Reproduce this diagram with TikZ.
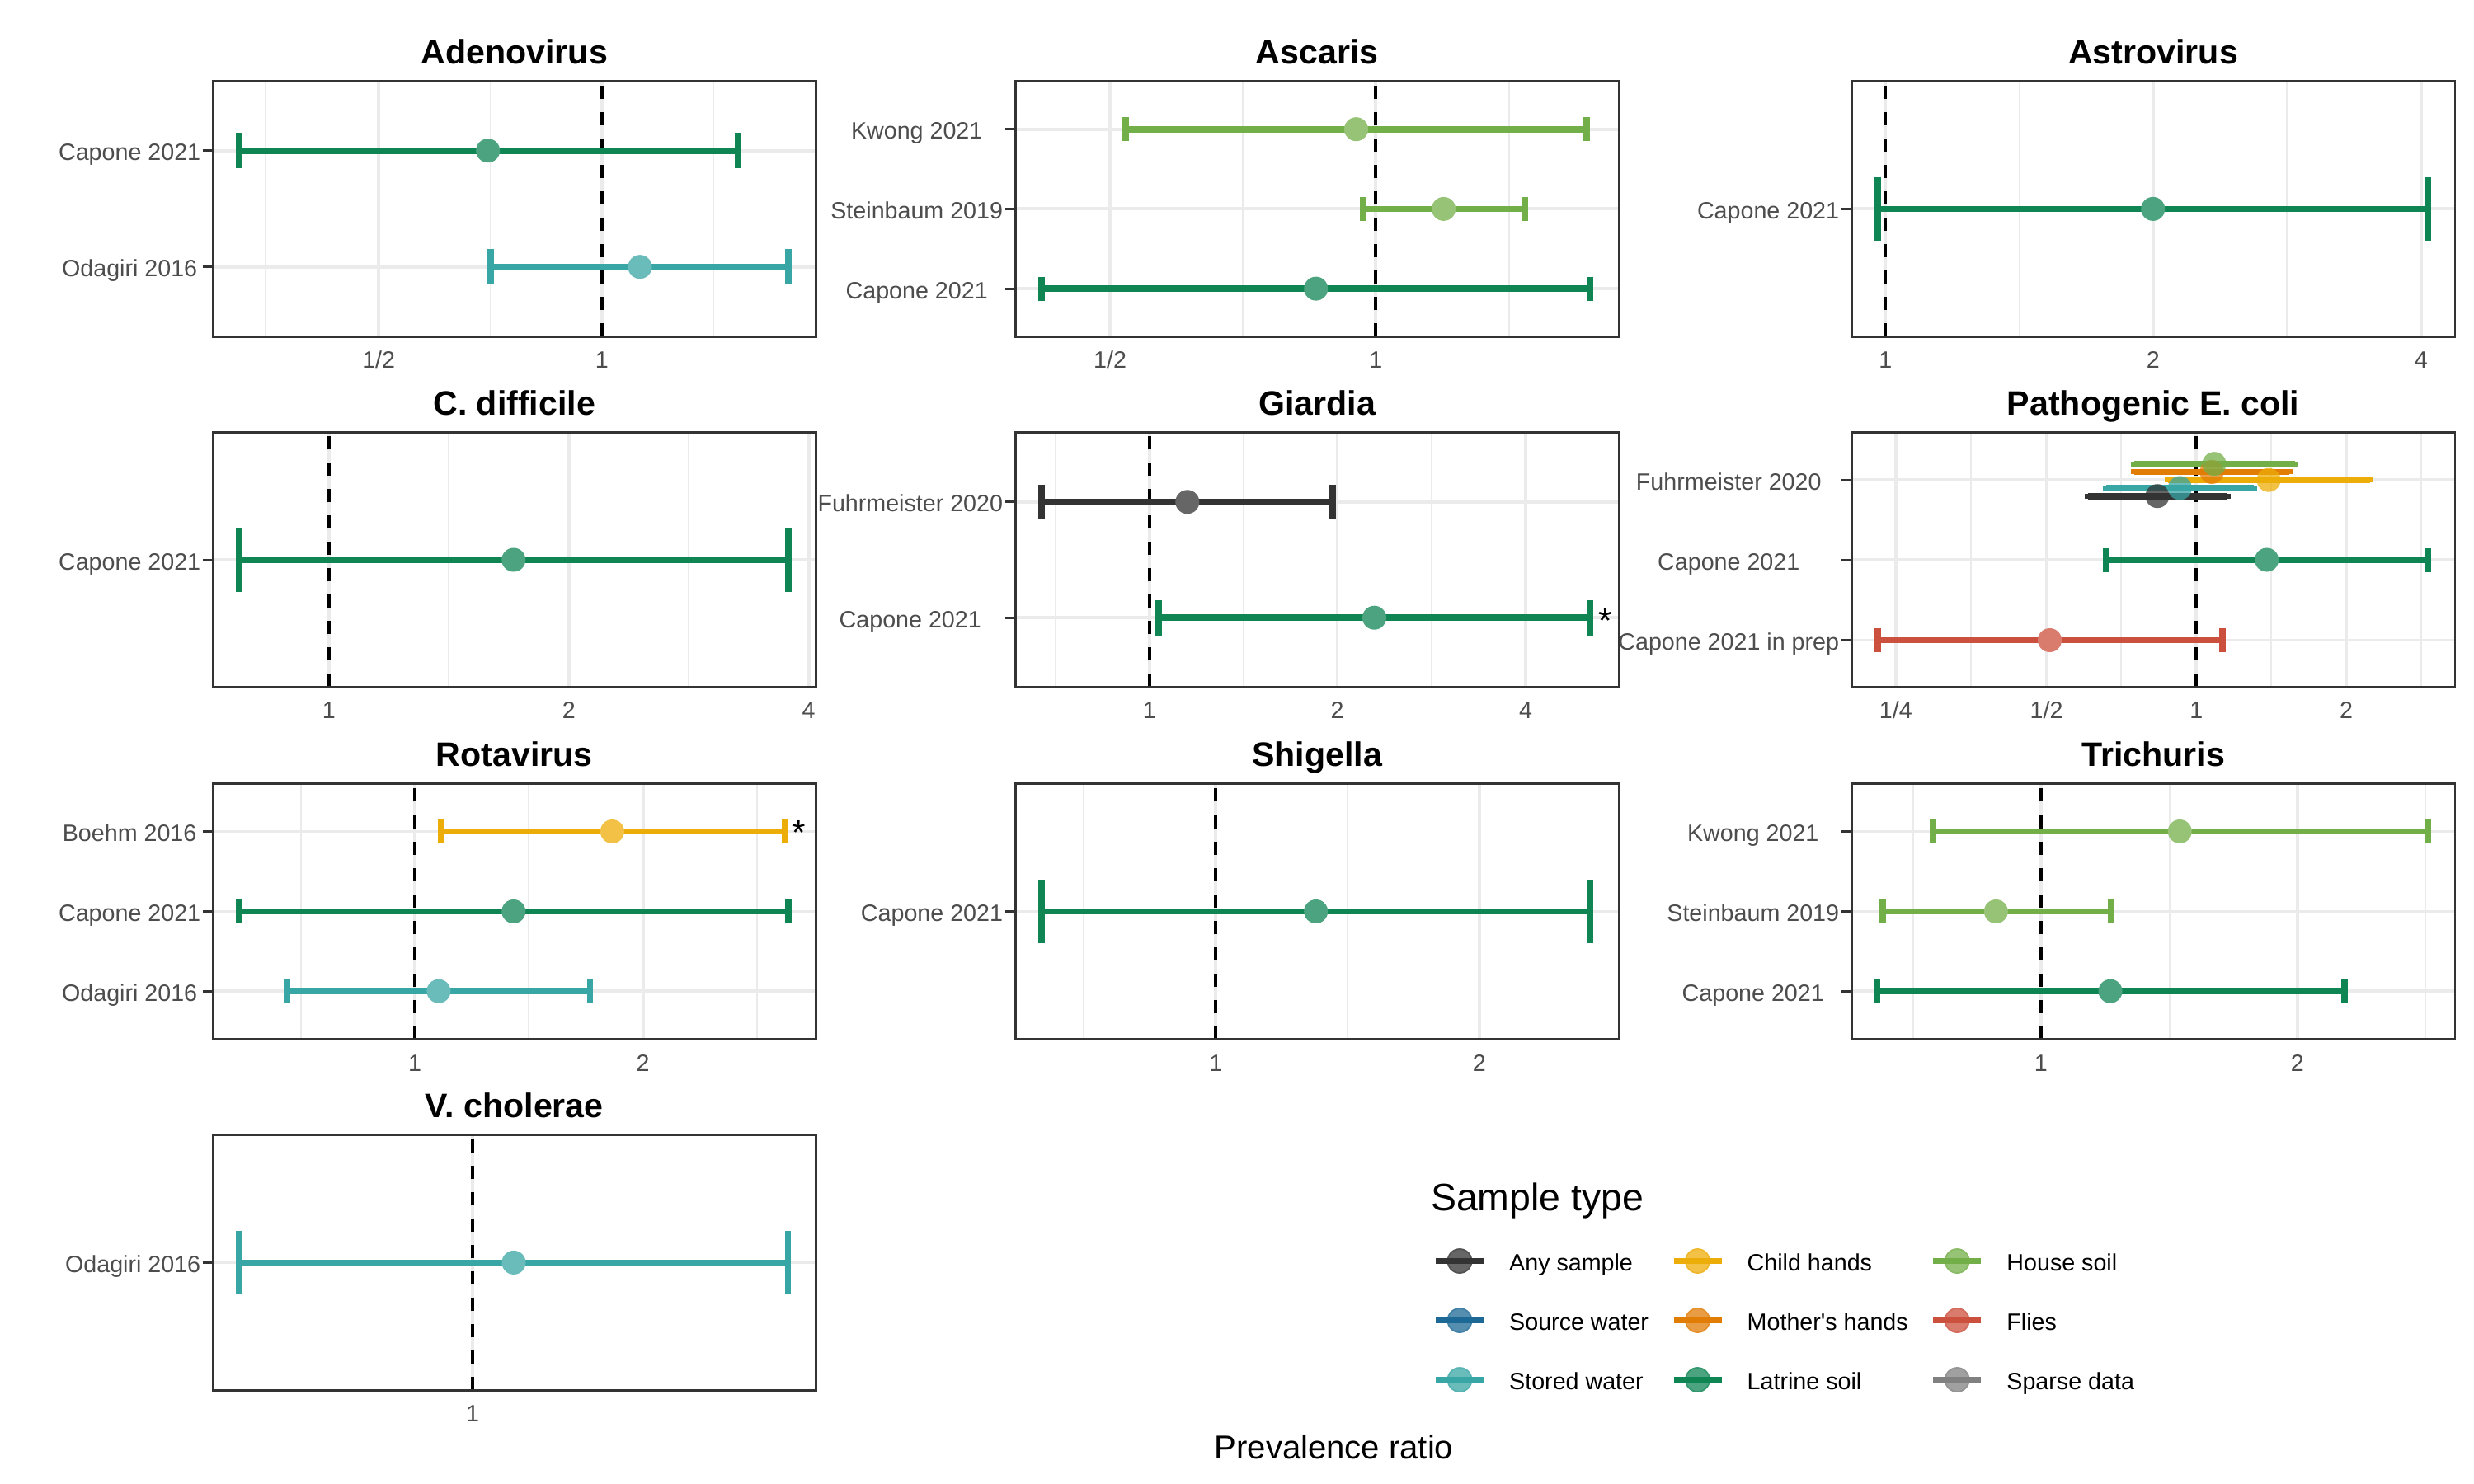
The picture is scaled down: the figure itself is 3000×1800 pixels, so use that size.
\documentclass[tikz,border=0pt]{standalone}
\usepackage{fontspec}
\setmainfont{Liberation Sans}
\usepackage{tikz}
\definecolor{anys}{HTML}{333333}
\definecolor{source}{HTML}{1D6996}
\definecolor{stored}{HTML}{38A6A5}
\definecolor{latrine}{HTML}{0F8554}
\definecolor{house}{HTML}{73AF48}
\definecolor{child}{HTML}{EDAD08}
\definecolor{mother}{HTML}{E17C05}
\definecolor{flies}{HTML}{CC503E}
\definecolor{sparse}{HTML}{808080}
\definecolor{gridgrey}{HTML}{EBEBEB}
\definecolor{framegrey}{HTML}{333333}
\definecolor{axisgrey}{HTML}{4D4D4D}
% colour, y, low, high, half height of the end bars
\newcommand{\ebarline}[5]{%
  \draw[bar, #1] (#3,#2) -- (#4,#2);
  \draw[bar, #1] (#3,#2-#5) -- (#3,#2+#5);
  \draw[bar, #1] (#4,#2-#5) -- (#4,#2+#5);}
\newcommand{\ept}[3]{\fill[ptfill=#1] (#2,#3) circle[radius=0.145cm];}
\newcommand{\ebar}[6]{\ebarline{#1}{#2}{#3}{#4}{#6}\ept{#1}{#5}{#2}}

\begin{document}
\begin{tikzpicture}[x=0.01cm, y=-0.01cm,
    frame/.style={draw=framegrey, line width=0.8pt},
    majorgrid/.style={draw=gridgrey, line width=1.1pt},
    minorgrid/.style={draw=gridgrey, line width=0.55pt},
    refline/.style={draw=black, line width=1.15pt, dash pattern=on 4.55pt off 4.55pt},
    ytick/.style={draw=framegrey, line width=0.8pt},
    bar/.style={line width=2.2pt},
    ptfill/.style={fill=#1!75!white},
    ylab/.style={font=\fontsize{8.15}{10}\selectfont, text=axisgrey, inner sep=0pt},
    xlab/.style={font=\fontsize{8.15}{10}\selectfont, text=axisgrey, inner sep=0pt, anchor=base},
    ptitle/.style={font=\fontsize{11.7}{14}\selectfont\bfseries, inner sep=0pt, anchor=base},
    star/.style={font=\fontsize{12}{14}\selectfont, inner sep=0pt, anchor=base},
    legtext/.style={font=\fontsize{8.15}{10}\selectfont, inner sep=0pt, anchor=base west}]
\useasboundingbox (0,0) rectangle (3000,1800);

% Adenovirus
\foreach \x in {322.4,594.5,865.2} \draw[minorgrid] (\x,98.7) -- (\x,408.1);
\foreach \x in {459.2,729.9} \draw[majorgrid] (\x,98.7) -- (\x,408.1);
\foreach \y in {182.7,323.7} {\draw[majorgrid] (258.3,\y) -- (989.2,\y); \draw[ytick] (246.3,\y) -- (258.3,\y);}
\draw[refline] (729.9,408.1) -- (729.9,98.7);
\ebar{latrine}{182.7}{290}{894.5}{591.7}{21.3}
\ebar{stored}{323.7}{595.2}{956}{776}{21.3}
\draw[frame] (258.3,98.7) rectangle (989.2,408.1);
\node[ptitle] (ade) at (623.75,77.5) {Adenovirus};
\node[ylab, anchor=base east] (ade-c) at (243.9,194.7) {Capone 2021};
\node[ylab, anchor=base] (ade-o) at (ade-c.base |- 0,335.7) {Odagiri 2016};
\node[xlab] (ade-x1) at (459.2,446.6) {1/2};
\node[xlab] (ade-x2) at (729.9,446.6) {1};

% Ascaris
\foreach \x in {1507.2,1829.6} \draw[minorgrid] (\x,98.7) -- (\x,408.1);
\foreach \x in {1346,1668.4} \draw[majorgrid] (\x,98.7) -- (\x,408.1);
\foreach \y in {156.7,253.4,350.1} {\draw[majorgrid] (1231.2,\y) -- (1963,\y); \draw[ytick] (1219.2,\y) -- (1231.2,\y);}
\draw[refline] (1668.4,408.1) -- (1668.4,98.7);
\ebar{house}{156.7}{1365.2}{1923.8}{1644.5}{14.5}
\ebar{house}{253.4}{1653.1}{1849.2}{1750.6}{14.5}
\ebar{latrine}{350.1}{1262.8}{1928.6}{1595.7}{14.5}
\draw[frame] (1231.2,98.7) rectangle (1963,408.1);
\node[ptitle] (asc) at (1597.1,77.5) {Ascaris};
\node[ylab, anchor=base east] (asc-s) at (1216.8,265.4) {Steinbaum 2019};
\node[ylab, anchor=base] (asc-k) at (asc-s.base |- 0,168.7) {Kwong 2021};
\node[ylab, anchor=base] (asc-c) at (asc-s.base |- 0,362.1) {Capone 2021};
\node[xlab] (asc-x1) at (1346,446.6) {1/2};
\node[xlab] (asc-x2) at (1668.4,446.6) {1};

% Astrovirus
\foreach \x in {2448.5,2773.3} \draw[minorgrid] (\x,98.7) -- (\x,408.1);
\foreach \x in {2286.4,2610.7,2935.9} \draw[majorgrid] (\x,98.7) -- (\x,408.1);
\draw[majorgrid] (2245.2,253.4) -- (2977,253.4);
\draw[ytick] (2233.2,253.4) -- (2245.2,253.4);
\draw[refline] (2286.4,408.1) -- (2286.4,98.7);
\ebar{latrine}{253.4}{2276.8}{2943.6}{2610.7}{38.8}
\draw[frame] (2245.2,98.7) rectangle (2977,408.1);
\node[ptitle] (ast) at (2611.1,77.5) {Astrovirus};
\node[ylab, anchor=base east] (ast-c) at (2230.8,265.4) {Capone 2021};
\node[xlab] (ast-x1) at (2286.4,446.6) {1};
\node[xlab] (ast-x2) at (2610.7,446.6) {2};
\node[xlab] (ast-x3) at (2935.9,446.6) {4};

% C. difficile
\foreach \x in {544.4,835.2} \draw[minorgrid] (\x,524.6) -- (\x,833.4);
\foreach \x in {398.9,689.8,980.6} \draw[majorgrid] (\x,524.6) -- (\x,833.4);
\draw[majorgrid] (258.3,679) -- (989.2,679);
\draw[ytick] (246.3,679) -- (258.3,679);
\draw[refline] (398.9,833.4) -- (398.9,524.6);
\ebar{latrine}{679}{289.9}{955.7}{622.8}{38.8}
\draw[frame] (258.3,524.6) rectangle (989.2,833.4);
\node[ptitle] (cdi) at (623.75,503.4) {C. difficile};
\node[ylab, anchor=base east] (cdi-c) at (243.9,691) {Capone 2021};
\node[xlab] (cdi-x1) at (398.9,871.9) {1};
\node[xlab] (cdi-x2) at (689.8,871.9) {2};
\node[xlab] (cdi-x3) at (980.6,871.9) {4};

% Giardia
\foreach \x in {1279.9,1507.7,1735.8} \draw[minorgrid] (\x,524.6) -- (\x,833.4);
\foreach \x in {1393.9,1621.5,1850.1} \draw[majorgrid] (\x,524.6) -- (\x,833.4);
\foreach \y in {608.8,749.2} {\draw[majorgrid] (1231.2,\y) -- (1963,\y); \draw[ytick] (1219.2,\y) -- (1231.2,\y);}
\draw[refline] (1393.9,833.4) -- (1393.9,524.6);
\ebar{anys}{608.8}{1262.8}{1615.8}{1439.8}{21.3}
\ebar{latrine}{749.2}{1405.3}{1928.6}{1666.5}{21.3}
\draw[frame] (1231.2,524.6) rectangle (1963,833.4);
\node[star] (gia-s) at (1946.8,767) {*};
\node[ptitle] (gia) at (1597.1,503.4) {Giardia};
\node[ylab, anchor=base east] (gia-f) at (1216.8,620.8) {Fuhrmeister 2020};
\node[ylab, anchor=base] (gia-c) at (gia-f.base |- 0,761.2) {Capone 2021};
\node[xlab] (gia-x1) at (1393.9,871.9) {1};
\node[xlab] (gia-x2) at (1621.5,871.9) {2};
\node[xlab] (gia-x3) at (1850.1,871.9) {4};

% Pathogenic E. coli
\foreach \x in {2390.2,2572.4,2754.2,2936.2} \draw[minorgrid] (\x,524.6) -- (\x,833.4);
\foreach \x in {2298.8,2481.5,2663.3,2845.1} \draw[majorgrid] (\x,524.6) -- (\x,833.4);
\foreach \y in {582,679,776.5} {\draw[majorgrid] (2245.2,\y) -- (2977,\y); \draw[ytick] (2233.2,\y) -- (2245.2,\y);}
\draw[refline] (2663.3,833.4) -- (2663.3,524.6);
\begin{scope}[ptfill/.style={fill=#1, fill opacity=0.75}]
  \ebarline{anys}{601.7}{2532.3}{2700.7}{3}
  \ebarline{stored}{591.95}{2554.3}{2732.7}{3}
  \ebarline{child}{582.2}{2629.3}{2873.7}{3}
  \ebarline{mother}{572.45}{2588.3}{2776}{3}
  \ebarline{house}{562.7}{2588.3}{2782.7}{3}
  \ept{anys}{2616}{601.7}
  \ept{stored}{2643.3}{591.95}
  \ept{child}{2751}{582.2}
  \ept{mother}{2682}{572.45}
  \ept{house}{2685}{562.7}
\end{scope}
\ebar{latrine}{679}{2554}{2943.7}{2748.6}{14.5}
\ebar{flies}{776.5}{2276.8}{2695.1}{2485.5}{14.5}
\draw[frame] (2245.2,524.6) rectangle (2977,833.4);
\node[ptitle] (eco) at (2611.1,503.4) {Pathogenic E. coli};
\node[ylab, anchor=base east] (eco-p) at (2230.8,788.5) {Capone 2021 in prep};
\node[ylab, anchor=base] (eco-f) at (eco-p.base |- 0,594) {Fuhrmeister 2020};
\node[ylab, anchor=base] (eco-c) at (eco-p.base |- 0,691) {Capone 2021};
\node[xlab] (eco-x1) at (2298.8,871.9) {1/4};
\node[xlab] (eco-x2) at (2481.5,871.9) {1/2};
\node[xlab] (eco-x3) at (2663.3,871.9) {1};
\node[xlab] (eco-x4) at (2845.1,871.9) {2};

% Rotavirus
\foreach \x in {365.4,641.4,918} \draw[minorgrid] (\x,950.5) -- (\x,1260.5);
\foreach \x in {503.2,779.7} \draw[majorgrid] (\x,950.5) -- (\x,1260.5);
\foreach \y in {1008.5,1105.5,1202.2} {\draw[majorgrid] (258.3,\y) -- (989.2,\y); \draw[ytick] (246.3,\y) -- (258.3,\y);}
\draw[refline] (503.2,1260.5) -- (503.2,950.5);
\ebar{child}{1008.5}{534.8}{951.9}{742.4}{14.5}
\ebar{latrine}{1105.5}{289.9}{955.7}{622.8}{14.5}
\ebar{stored}{1202.2}{348.2}{715.6}{531.9}{14.5}
\draw[frame] (258.3,950.5) rectangle (989.2,1260.5);
\node[star] (rot-s) at (969.1,1024.5) {*};
\node[ptitle] (rot) at (623.75,929.3) {Rotavirus};
\node[ylab, anchor=base east] (rot-c) at (243.9,1117.5) {Capone 2021};
\node[ylab, anchor=base] (rot-b) at (rot-c.base |- 0,1020.5) {Boehm 2016};
\node[ylab, anchor=base] (rot-o) at (rot-c.base |- 0,1214.2) {Odagiri 2016};
\node[xlab] (rot-x1) at (503.2,1299) {1};
\node[xlab] (rot-x2) at (779.7,1299) {2};

% Shigella
\foreach \x in {1314,1634,1953.5} \draw[minorgrid] (\x,950.5) -- (\x,1260.5);
\foreach \x in {1474.2,1793.7} \draw[majorgrid] (\x,950.5) -- (\x,1260.5);
\draw[majorgrid] (1231.2,1105.5) -- (1963,1105.5);
\draw[ytick] (1219.2,1105.5) -- (1231.2,1105.5);
\draw[refline] (1474.2,1260.5) -- (1474.2,950.5);
\ebar{latrine}{1105.5}{1262.8}{1928.6}{1595.7}{38.8}
\draw[frame] (1231.2,950.5) rectangle (1963,1260.5);
\node[ptitle] (shi) at (1597.1,929.3) {Shigella};
\node[ylab, anchor=base east] (shi-c) at (1216.8,1117.5) {Capone 2021};
\node[xlab] (shi-x1) at (1474.2,1299) {1};
\node[xlab] (shi-x2) at (1793.7,1299) {2};

% Trichuris
\foreach \x in {2320,2630.5,2941} \draw[minorgrid] (\x,950.5) -- (\x,1260.5);
\foreach \x in {2474.8,2785.8} \draw[majorgrid] (\x,950.5) -- (\x,1260.5);
\foreach \y in {1008.5,1105.5,1202.2} {\draw[majorgrid] (2245.2,\y) -- (2977,\y); \draw[ytick] (2233.2,\y) -- (2245.2,\y);}
\draw[refline] (2474.8,1260.5) -- (2474.8,950.5);
\ebar{house}{1008.5}{2343.8}{2943.6}{2643.2}{14.5}
\ebar{house}{1105.5}{2282.6}{2560}{2420.3}{14.5}
\ebar{latrine}{1202.2}{2275.9}{2843.2}{2559}{14.5}
\draw[frame] (2245.2,950.5) rectangle (2977,1260.5);
\node[ptitle] (tri) at (2611.1,929.3) {Trichuris};
\node[ylab, anchor=base east] (tri-s) at (2230.8,1117.5) {Steinbaum 2019};
\node[ylab, anchor=base] (tri-k) at (tri-s.base |- 0,1020.5) {Kwong 2021};
\node[ylab, anchor=base] (tri-c) at (tri-s.base |- 0,1214.2) {Capone 2021};
\node[xlab] (tri-x1) at (2474.8,1299) {1};
\node[xlab] (tri-x2) at (2785.8,1299) {2};

% V. cholerae
\draw[majorgrid] (573,1376.4) -- (573,1686.4);
\draw[majorgrid] (258.3,1531.4) -- (989.2,1531.4);
\draw[ytick] (246.3,1531.4) -- (258.3,1531.4);
\draw[refline] (573,1686.4) -- (573,1376.4);
\ebar{stored}{1531.4}{289.8}{955.6}{623}{38.8}
\draw[frame] (258.3,1376.4) rectangle (989.2,1686.4);
\node[ptitle] (vch) at (623.75,1355.2) {V. cholerae};
\node[ylab, anchor=base east] (vch-o) at (243.9,1543.4) {Odagiri 2016};
\node[xlab] (vch-x1) at (573,1724.9) {1};

% legend and axis title
\node[font=\fontsize{13.2}{16}\selectfont, inner sep=0pt, anchor=base west] (legtitle) at (1734.4,1468.2) {Sample type};
\foreach \kx/\ky/\kc/\kt in {1770/1529.5/anys/Any sample, 1770/1601.5/source/Source water,
    1770/1673.5/stored/Stored water, 2058.5/1529.5/child/Child hands,
    2058.5/1601.5/mother/Mother\textquotesingle s hands, 2058.5/1673.5/latrine/Latrine soil,
    2373.2/1529.5/house/House soil, 2373.2/1601.5/flies/Flies, 2373.2/1673.5/sparse/Sparse data} {
  \draw[\kc!85!white, line width=0.5pt, fill=\kc!75!white] (\kx,\ky) circle[radius=0.145cm];
  \draw[bar, \kc] (\kx-29,\ky) -- (\kx+29,\ky);
  \node[legtext] (leg-\kc) at (\kx+59.5,\ky+12) {\kt};
}
\node[font=\fontsize{11.4}{14}\selectfont, inner sep=0pt, anchor=base] (xtitle) at (1617.5,1769.6) {Prevalence ratio};
\end{tikzpicture}
\end{document}
